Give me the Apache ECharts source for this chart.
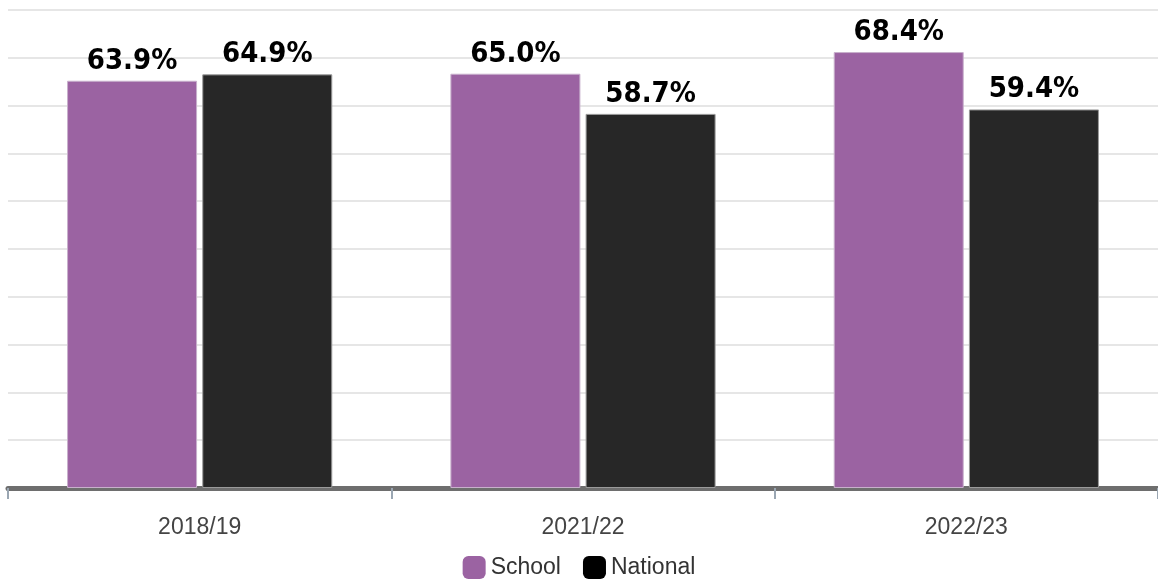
<!DOCTYPE html>
<html>
<head>
<meta charset="utf-8">
<script src="https://cdn.jsdelivr.net/npm/echarts@6/dist/echarts.min.js"></script>
<style>
  html, body { margin: 0; padding: 0; background: #fff; }
  #chart { width: 1158px; height: 582px; }
</style>
</head>
<body>
<div id="chart"></div>
<script>
  // data
  const years = ['2018/19', '2021/22', '2022/23'];
  const school = [63.9, 65.0, 68.4];
  const national = [64.9, 58.7, 59.4];

  const chart = echarts.init(document.getElementById('chart'));

  const barLabel = {
    show: true,
    position: 'top',
    distance: 5,
    color: '#000',
    fontFamily: '"DejaVu Sans Condensed", sans-serif',
    fontWeight: 'bold',
    fontSize: 29,
    formatter: p => p.value.toFixed(1) + '%'
  };

  chart.setOption({
    animation: false,
    grid: { left: 8, right: -3, top: 10, bottom: 94 },
    legend: {
      bottom: -2,
      left: 'center',
      itemWidth: 23,
      itemHeight: 23,
      itemGap: 22,
      itemStyle: { borderWidth: 0 },
      textStyle: { fontFamily: 'Liberation Sans, Arial, sans-serif', fontSize: 23, color: '#333' },
      data: [
        { name: 'School', icon: 'roundRect' },
        { name: 'National', icon: 'roundRect', itemStyle: { color: '#000' } }
      ]
    },
    xAxis: {
      type: 'category',
      data: years,
      axisLine: { lineStyle: { color: '#6e6e6e', width: 5 } },
      axisTick: { show: true, length: 11, lineStyle: { color: '#9aa6b2', width: 2 } },
      axisLabel: { margin: 28, fontFamily: 'Liberation Sans, Arial, sans-serif', fontSize: 23, color: '#444' }
    },
    yAxis: {
      type: 'value',
      min: 0,
      max: 75,
      interval: 7.5,
      axisLabel: { show: false },
      axisLine: { show: false },
      axisTick: { show: false },
      splitLine: { lineStyle: { color: '#e6e6e6', width: 2 } }
    },
    series: [
      {
        name: 'School',
        type: 'bar',
        data: school,
        barWidth: 130,
        barGap: '4%',
        itemStyle: { color: '#9b63a2', borderColor: '#c8b0cc', borderWidth: 1 },
        label: barLabel
      },
      {
        name: 'National',
        type: 'bar',
        data: national,
        barWidth: 130,
        itemStyle: { color: '#272727', borderColor: '#9a9a9a', borderWidth: 1 },
        label: barLabel
      }
    ]
  });
</script>
</body>
</html>
